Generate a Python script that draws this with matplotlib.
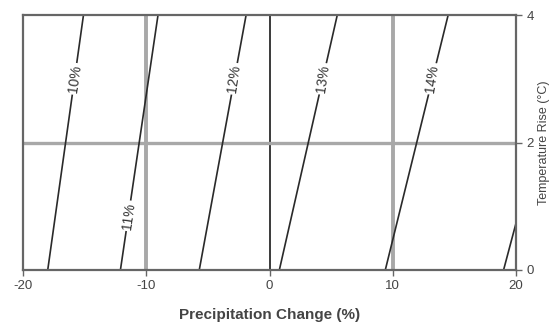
import matplotlib.pyplot as plt

plt.rcParams['font.family'] = ['Liberation Sans', 'DejaVu Sans']
plt.rcParams['axes.unicode_minus'] = False

# contour lines: precipitation change at bottom (0 °C) and top (4 °C)
levels = ['10%', '11%', '12%', '13%', '14%', '15%']
x_bottom = [-18.0, -12.1, -5.7, 0.8, 9.4, 19.0]
x_top = [-15.1, -9.05, -1.9, 5.5, 14.5, 24.5]
label_temp = [3.0, 0.85, 3.0, 3.0, 3.0, None]

fig = plt.figure(figsize=(5.5, 3.28), dpi=100)
ax = fig.add_axes([0.042, 0.177, 0.896, 0.777])

# grid lines
ax.axvline(-10, color='#a8a8a8', lw=2.8, zorder=1)
ax.axvline(10, color='#a8a8a8', lw=2.8, zorder=1)
ax.axvline(0, color='#3a3a3a', lw=1.4, zorder=1)
ax.axhline(2, color='#a8a8a8', lw=2.4, zorder=1)

for lev, xb, xt, lt in zip(levels, x_bottom, x_top, label_temp):
    ax.plot([xb, xt], [0, 4], color='#2a2a2a', lw=1.2, zorder=2)
    if lt is not None:
        xl = xb + (xt - xb) * lt / 4
        ax.text(xl, lt, lev, rotation=82, ha='center', va='center',
                fontsize=10, color='#333333', zorder=3,
                bbox=dict(facecolor='white', edgecolor='none', pad=1.5))

ax.set_xlim(-20, 20)
ax.set_ylim(0, 4)
ax.set_xticks([-20, -10, 0, 10, 20])
ax.set_yticks([0, 2, 4])
ax.yaxis.tick_right()
ax.yaxis.set_label_position('right')
ax.tick_params(colors='#666666', labelcolor='#444444', labelsize=9.5, length=4, width=1.0)
for s in ax.spines.values():
    s.set_color('#666666')
    s.set_linewidth(1.6)

ax.set_xlabel('Precipitation Change (%)', fontsize=11, fontweight='bold', color='#444444', labelpad=11)
ax.set_ylabel('Temperature Rise (°C)', fontsize=9, color='#444444', labelpad=3)

fig.savefig('out.png', dpi=100)
